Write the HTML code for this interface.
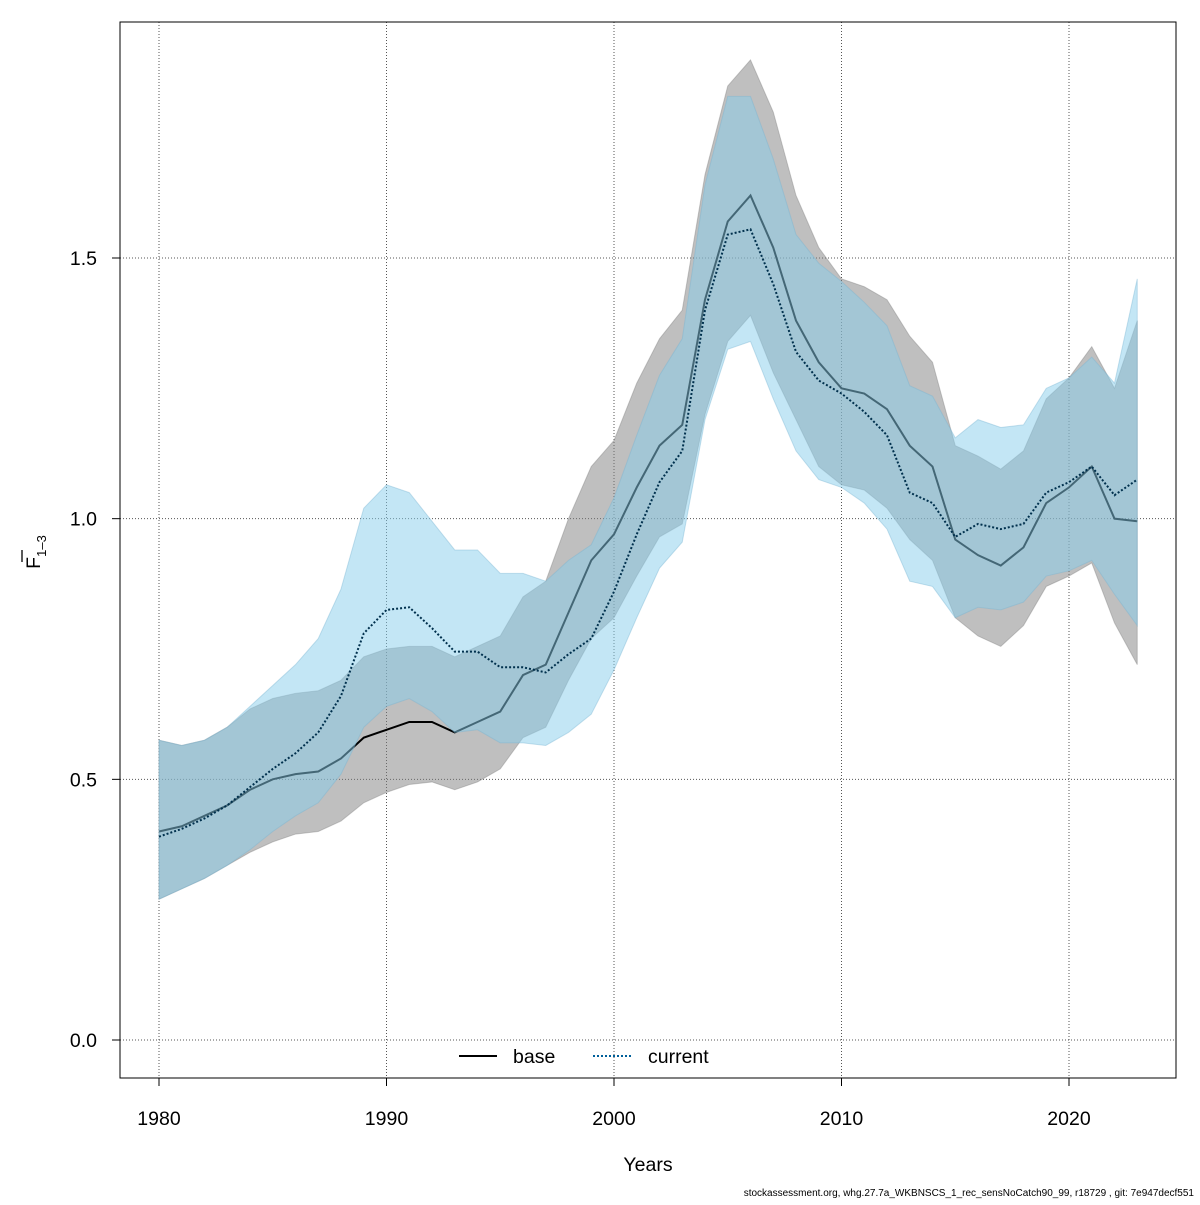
<!DOCTYPE html>
<html><head><meta charset="utf-8"><style>
body{margin:0;background:#fff}
svg text{font-family:"Liberation Sans",sans-serif}
</style></head><body>
<svg id="chart" width="1200" height="1200" viewBox="0 0 1200 1200" xmlns="http://www.w3.org/2000/svg">
<rect width="1200" height="1200" fill="#fff"/>
<g id="grid"></g>
<g id="bands"></g>
<g id="axes"></g>
<rect x="120" y="22" width="1056" height="1056" fill="none" stroke="#000" stroke-width="1"/>
<text x="648" y="1171" font-size="19.5" text-anchor="middle">Years</text>
<text transform="translate(40,552) rotate(-90)" font-size="19.5" text-anchor="middle"><tspan>F</tspan><tspan font-size="13" dy="6">1–3</tspan></text>
<line x1="22" y1="562" x2="22" y2="550" stroke="#000" stroke-width="1.3"/>
<g>
<line x1="459" y1="1056" x2="497" y2="1056" stroke="#000" stroke-width="2"/>
<text x="513" y="1063" font-size="19.5">base</text>
<line x1="593" y1="1056" x2="632" y2="1056" stroke="#00609a" stroke-width="2" stroke-dasharray="2,2"/>
<text x="648" y="1063" font-size="19.5">current</text>
</g>
<text x="1194" y="1196" font-size="10" text-anchor="end">stockassessment.org, whg.27.7a_WKBNSCS_1_rec_sensNoCatch90_99, r18729 , git: 7e947decf551</text>
</svg>
<script>
const years=[];for(let y=1980;y<=2023;y++)years.push(y);
const baseMid=[0.40,0.41,0.43,0.45,0.48,0.50,0.51,0.515,0.54,0.58,0.595,0.61,0.61,0.59,0.61,0.63,0.70,0.72,0.82,0.92,0.97,1.06,1.14,1.18,1.42,1.57,1.62,1.52,1.38,1.30,1.25,1.24,1.21,1.14,1.10,0.96,0.93,0.91,0.945,1.03,1.06,1.10,1.00,0.995];
const baseHi=[0.575,0.565,0.575,0.60,0.635,0.655,0.665,0.67,0.69,0.735,0.75,0.755,0.755,0.735,0.755,0.775,0.85,0.88,1.00,1.10,1.15,1.26,1.345,1.40,1.66,1.83,1.88,1.78,1.62,1.52,1.46,1.445,1.42,1.35,1.30,1.14,1.12,1.095,1.13,1.23,1.27,1.33,1.25,1.38];
const baseLo=[0.27,0.29,0.31,0.335,0.36,0.38,0.395,0.40,0.42,0.455,0.475,0.49,0.495,0.48,0.495,0.52,0.58,0.60,0.69,0.77,0.81,0.89,0.965,0.99,1.20,1.34,1.39,1.28,1.19,1.10,1.065,1.055,1.02,0.96,0.92,0.81,0.775,0.755,0.795,0.87,0.89,0.915,0.80,0.72];
const curMid=[0.39,0.405,0.425,0.45,0.485,0.52,0.55,0.59,0.66,0.78,0.825,0.83,0.79,0.745,0.745,0.715,0.715,0.705,0.74,0.77,0.86,0.97,1.07,1.13,1.40,1.545,1.555,1.45,1.32,1.265,1.24,1.205,1.16,1.05,1.03,0.965,0.99,0.98,0.99,1.05,1.07,1.10,1.045,1.075];
const curHi=[0.575,0.565,0.575,0.60,0.64,0.68,0.72,0.77,0.865,1.02,1.065,1.05,0.995,0.94,0.94,0.895,0.895,0.88,0.92,0.95,1.04,1.16,1.275,1.345,1.64,1.81,1.81,1.69,1.545,1.49,1.455,1.415,1.37,1.255,1.235,1.155,1.19,1.175,1.18,1.25,1.27,1.31,1.26,1.46];
const curLo=[0.27,0.29,0.31,0.335,0.365,0.40,0.43,0.455,0.51,0.60,0.64,0.655,0.63,0.59,0.595,0.57,0.57,0.565,0.59,0.625,0.71,0.81,0.905,0.955,1.19,1.325,1.34,1.23,1.13,1.075,1.06,1.03,0.98,0.88,0.87,0.81,0.83,0.825,0.84,0.89,0.90,0.92,0.855,0.795];
const xTicks=[1980,1990,2000,2010,2020];
const yTicks=[0,0.5,1.0,1.5];
const yTickLabels=["0.0","0.5","1.0","1.5"];

const X=y=>159+(y-1980)*22.75;
const Y=v=>1040-v*521.33;
const NS="http://www.w3.org/2000/svg";
function mk(tag,parent,attrs){const e=document.createElementNS(NS,tag);for(const k in attrs)e.setAttribute(k,attrs[k]);parent.appendChild(e);return e;}
const grid=document.getElementById('grid'),bands=document.getElementById('bands'),axes=document.getElementById('axes');
xTicks.forEach(t=>{
  const l=mk('line',grid,{x1:X(t),x2:X(t),y1:22,y2:1078,stroke:'#555','stroke-width':1,'stroke-dasharray':'1,2'});
  
  
  const tk=mk('line',axes,{x1:X(t),x2:X(t),y1:1078,y2:1086,stroke:'#000'});
  
  
  const tx=mk('text',axes,{x:X(t),y:1125,'font-size':19.5,'text-anchor':'middle'});tx.textContent=t;
  
  
});
yTicks.forEach((t,i)=>{
  const l=mk('line',grid,{x1:120,x2:1176,y1:Y(t),y2:Y(t),stroke:'#555','stroke-width':1,'stroke-dasharray':'1,2'});
  
  
  const tk=mk('line',axes,{x1:112,x2:120,y1:Y(t),y2:Y(t),stroke:'#000'});
  
  
  const tx=mk('text',axes,{x:97,y:Y(t)+7,'font-size':19.5,'text-anchor':'end'});tx.textContent=yTickLabels[i];
  
  
});
function bandPath(hi,lo){let d='';years.forEach((y,i)=>{d+=(i?'L':'M')+X(y)+','+Y(hi[i]);});for(let i=years.length-1;i>=0;i--)d+='L'+X(years[i])+','+Y(lo[i]);return d+'Z';}
function linePath(v){return years.map((y,i)=>(i?'L':'M')+X(y)+','+Y(v[i])).join('');}
const gb=mk('path',bands,{d:bandPath(baseHi,baseLo),fill:'rgb(128,128,128)','fill-opacity':0.5,stroke:'rgb(128,128,128)','stroke-opacity':0.4});


const bl=mk('path',bands,{d:linePath(baseMid),fill:'none',stroke:'#000','stroke-width':2});


const cb=mk('path',bands,{d:bandPath(curHi,curLo),fill:'rgb(135,206,235)','fill-opacity':0.5,stroke:'rgb(120,180,210)','stroke-opacity':0.4});


const cl=mk('path',bands,{d:linePath(curMid),fill:'none',stroke:'#00304d','stroke-width':2,'stroke-dasharray':'2,2'});


</script>
</body></html>
